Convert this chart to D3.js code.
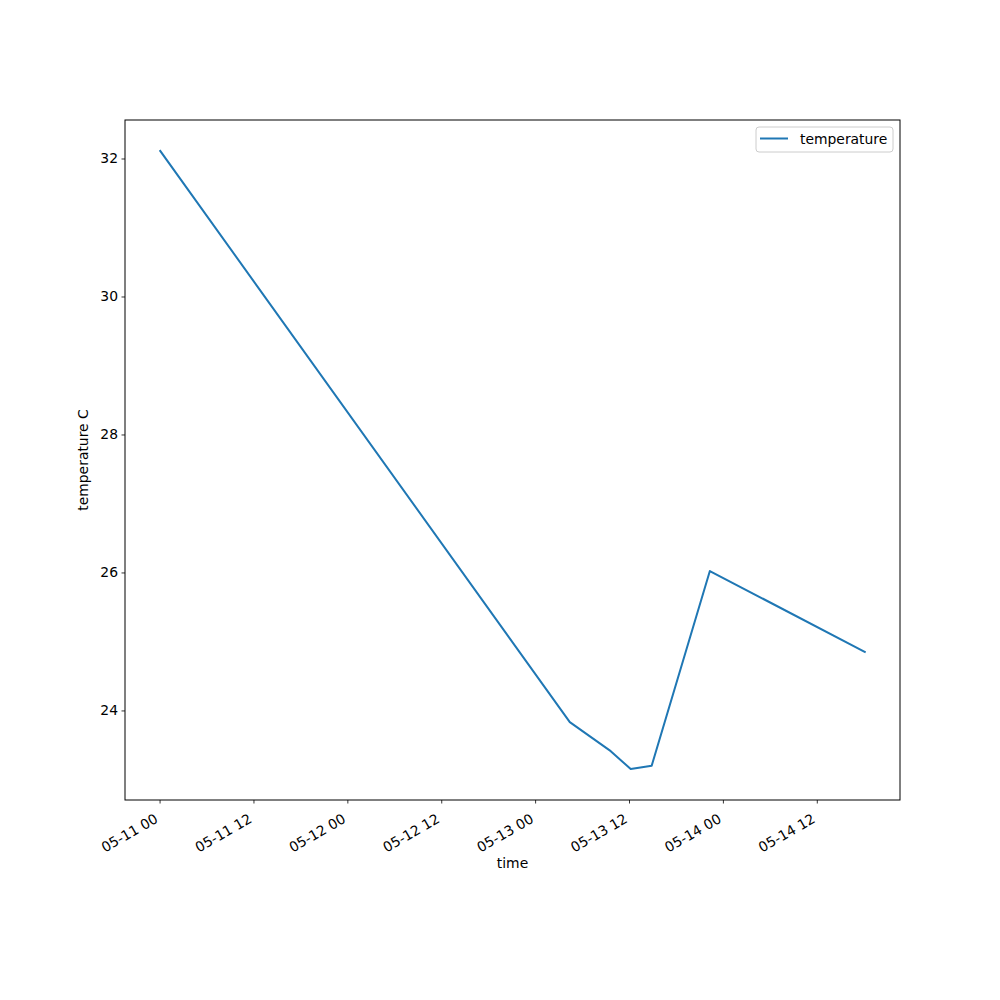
<!DOCTYPE html>
<html><head><meta charset="utf-8">
<script src="https://cdn.jsdelivr.net/npm/d3@7"></script>
<style>body{margin:0;background:#fff}svg{display:block}text{font-family:"DejaVu Sans",sans-serif;}</style>
</head><body>
<script>
const times = ["2023-05-11T00:05","2023-05-13T04:26","2023-05-13T09:40","2023-05-13T12:13","2023-05-13T14:54","2023-05-13T22:20","2023-05-14T18:08"];
const temperature = [32.11, 23.83, 23.41, 23.15, 23.20, 26.02, 24.85];
const yTicks = [24, 26, 28, 30, 32];
const seriesName = "temperature";

const parse = d3.timeParse("%Y-%m-%dT%H:%M");
const data = times.map((t,i)=>({t:parse(t), v:temperature[i]}));

const W=1000,H=1000, L=125,R=900,T=120,B=800;
const svg=d3.select("body").append("svg").attr("width",W).attr("height",H);

const tExt=d3.extent(data,d=>d.t), tPad=(tExt[1]-tExt[0])*0.05;
const x=d3.scaleTime().domain([new Date(+tExt[0]-tPad), new Date(+tExt[1]+tPad)]).range([L,R]);
const vExt=d3.extent(data,d=>d.v), vPad=(vExt[1]-vExt[0])*0.05;
const y=d3.scaleLinear().domain([vExt[0]-vPad, vExt[1]+vPad]).range([B,T]);

const xTicks=d3.timeHour.every(12).range(d3.timeDay.floor(x.domain()[0]), x.domain()[1]).filter(d=>d>=x.domain()[0]);
const fmt=d3.timeFormat("%m-%d %H");

const xa=svg.append("g").attr("transform",`translate(0,${B})`)
  .call(d3.axisBottom(x).tickValues(xTicks).tickFormat(fmt).tickSize(3.5).tickPadding(3.5));
xa.select(".domain").remove();
xa.selectAll("line").attr("stroke","#000").attr("stroke-width",0.8);
xa.selectAll("text").attr("font-size","13.9px").attr("fill","#000")
  .attr("text-anchor","end").attr("y",0).attr("dy","0.71em")
  .attr("transform","translate(-6,13) rotate(-30)");

const ya=svg.append("g").attr("transform",`translate(${L},0)`)
  .call(d3.axisLeft(y).tickValues(yTicks).tickSize(3.5).tickPadding(3.5));
ya.select(".domain").remove();
ya.selectAll("line").attr("stroke","#000").attr("stroke-width",0.8);
ya.selectAll("text").attr("font-size","13.9px").attr("fill","#000");

svg.append("path").datum(data)
  .attr("d",d3.line().x(d=>x(d.t)).y(d=>y(d.v)))
  .attr("fill","none").attr("stroke","#1f77b4").attr("stroke-width",2).attr("stroke-linejoin","round").attr("stroke-linecap","square");

svg.append("rect").attr("x",L).attr("y",T).attr("width",R-L).attr("height",B-T)
  .attr("fill","none").attr("stroke","#000").attr("stroke-width",1);

svg.append("text").attr("x",(L+R)/2).attr("y",868).attr("text-anchor","middle").attr("font-size","13.9px").text("time");
svg.append("text").attr("transform",`translate(88,${(T+B)/2}) rotate(-90)`).attr("text-anchor","middle").attr("font-size","13.9px").text("temperature C");

const lg=svg.append("g");
lg.append("rect").attr("x",756).attr("y",127).attr("width",137).attr("height",25).attr("rx",3)
  .attr("fill","#fff").attr("fill-opacity",0.8).attr("stroke","#ccc").attr("stroke-width",1);
lg.append("line").attr("x1",760).attr("x2",788).attr("y1",138.5).attr("y2",138.5).attr("stroke","#1f77b4").attr("stroke-width",2);
lg.append("text").attr("x",800).attr("y",143.5).attr("font-size","13.9px").text(seriesName);
</script>
</body></html>
